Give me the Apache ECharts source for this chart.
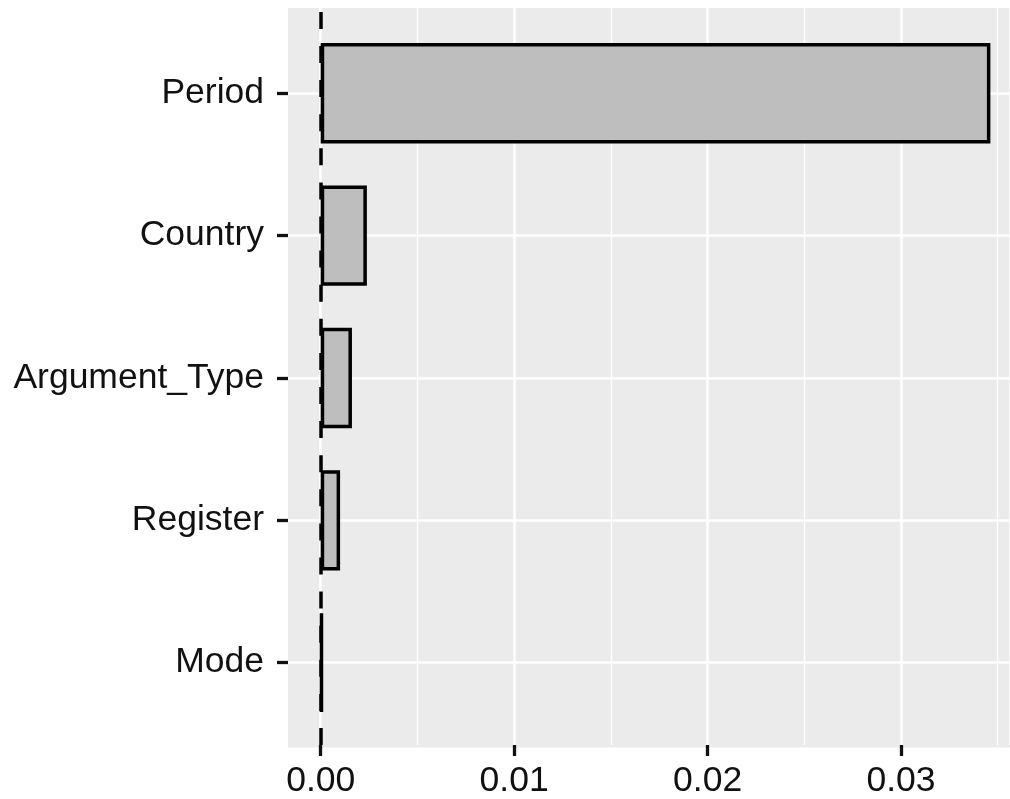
<!DOCTYPE html>
<html>
<head>
<meta charset="utf-8">
<script src="https://cdn.jsdelivr.net/npm/echarts@6/dist/echarts.min.js"></script>
<style>
html,body{margin:0;padding:0;background:#fff;}
#chart{width:1010px;height:799px;}
</style>
</head>
<body>
<div id="chart"></div>
<script>
// ---- data ----
const categories = ['Period', 'Country', 'Argument_Type', 'Register', 'Mode'];
const values = [0.03452, 0.00238, 0.00161, 0.00100, 0.00008];
const xTickInterval = 0.01;
const refLineValue = 0;

// ---- layout (pixel geometry of the panel) ----
const panelLeft = 288, panelTop = 8, panelBottom = 747.5, W = 1010, H = 799;
const zeroPx = 320.7, pxPerUnit = 19400;
const catTop = 93.3, catBottom = 662.7;

const xMinPanel = (panelLeft - zeroPx) / pxPerUnit;
const xMaxPanel = (W - zeroPx) / pxPerUnit;
const xMaxC = (W + 2 - zeroPx) / pxPerUnit;

const textColor = '#111111';
const font = 'Liberation Sans, Arial, Helvetica, sans-serif';

const chart = echarts.init(document.getElementById('chart'), null, {renderer: 'canvas'});
chart.setOption({
  animation: false,
  backgroundColor: '#ffffff',
  grid: [
    { // panel background
      left: panelLeft, right: 0, top: panelTop, height: panelBottom - panelTop,
      show: true, backgroundColor: '#EBEBEB', borderWidth: 0, z: 0
    },
    { // bars / categories
      left: panelLeft, right: 0, top: catTop, height: catBottom - catTop
    },
    { // x scale from zero
      left: zeroPx, right: -2, top: panelTop, height: panelBottom - panelTop
    }
  ],
  xAxis: [
    { gridIndex: 0, type: 'value', min: 0, max: 1, show: false },
    { gridIndex: 1, type: 'value', min: xMinPanel, max: xMaxPanel, show: false },
    {
      gridIndex: 2, type: 'value', min: 0, max: xMaxC, interval: xTickInterval, z: 1,
      axisLine: { show: false, onZero: false },
      axisTick: { show: true, length: 11, lineStyle: { color: textColor, width: 3.3 } },
      axisLabel: {
        show: true, color: textColor, fontSize: 35.5, fontFamily: font, margin: 18,
        showMaxLabel: false,
        formatter: v => v.toFixed(2)
      },
      splitLine: { show: true, lineStyle: { color: '#ffffff', width: 2.5 } },
      minorTick: { show: false, splitNumber: 2 },
      minorSplitLine: { show: true, lineStyle: { color: '#ffffff', width: 1.4 } }
    }
  ],
  yAxis: [
    { gridIndex: 0, type: 'value', min: 0, max: 1, show: false },
    {
      gridIndex: 1, type: 'category', data: categories, inverse: true, boundaryGap: false, z: 1,
      axisLine: { show: false, onZero: false },
      axisTick: { show: true, length: 11, lineStyle: { color: textColor, width: 3.3 } },
      axisLabel: { show: true, interval: 0, color: textColor, fontSize: 35.5, fontFamily: font, margin: 24 },
      splitLine: { show: true, lineStyle: { color: '#ffffff', width: 2.5 } }
    },
    { gridIndex: 2, type: 'value', min: 0, max: 1, show: false }
  ],
  series: [
    {
      type: 'bar', xAxisIndex: 1, yAxisIndex: 1, data: values, z: 2,
      barWidth: '70.5%', clip: false,
      itemStyle: { color: '#BEBEBE', borderColor: '#000000', borderWidth: 3.5 },
      silent: true
    },
    {
      type: 'line', xAxisIndex: 2, yAxisIndex: 2, data: [], z: 5, silent: true,
      markLine: {
        silent: true, symbol: ['none', 'none'], label: { show: false },
        lineStyle: { color: '#000000', width: 3.5, type: [17, 17.1] },
        data: [{ xAxis: refLineValue }]
      }
    }
  ]
});
</script>
</body>
</html>
